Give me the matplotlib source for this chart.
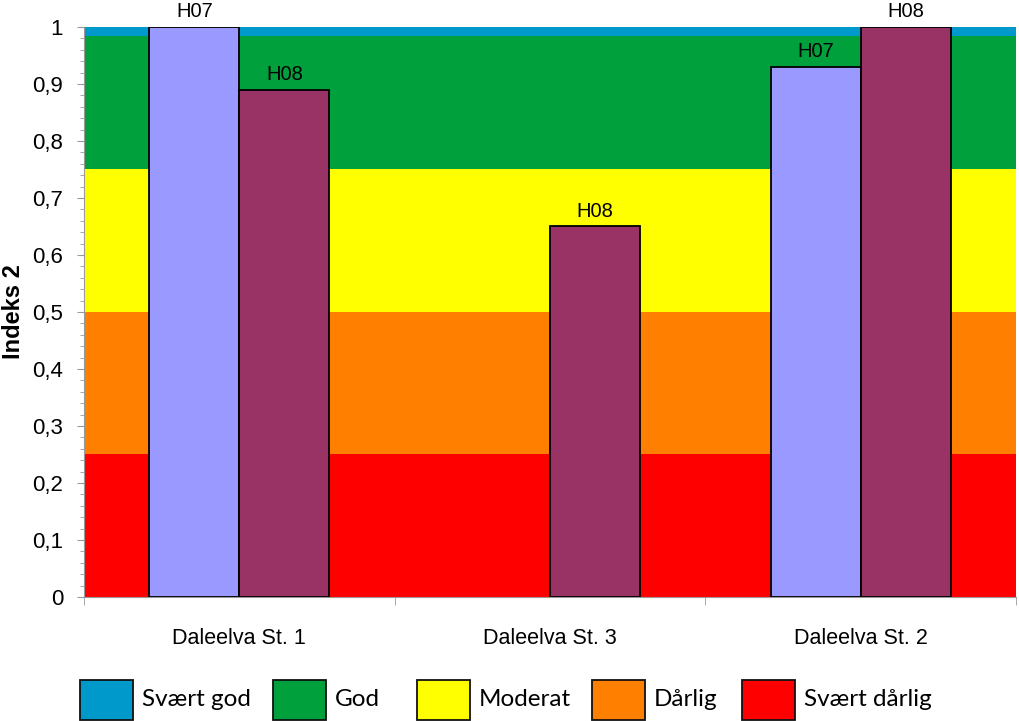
import numpy as np
import matplotlib
matplotlib.use("Agg")
import matplotlib.pyplot as plt
from matplotlib.patches import Rectangle

# data
stations = ['Daleelva St. 1', 'Daleelva St. 3', 'Daleelva St. 2']
h07 = [1.0, np.nan, 0.93]
h08 = [0.89, 0.65, 1.0]
series_names = ['H07', 'H08']

# status classes (lower, upper) of the index
class_names = ['Svært god', 'God', 'Moderat', 'Dårlig', 'Svært dårlig']
class_lims = [(0.985, 1.0), (0.75, 0.985), (0.5, 0.75), (0.25, 0.5), (0.0, 0.25)]
class_colors = ['#0099CC', '#00A03C', '#FFFF00', '#FF7F00', '#FF0000']

bar_colors = ['#9999FF', '#993366']
arial = ['Liberation Sans', 'DejaVu Sans']

fig = plt.figure(figsize=(10.2, 7.21), dpi=100)
ax = fig.add_axes([0.0824, 0.172, 0.9136, 0.7906])

for (lo, hi), c in zip(class_lims, class_colors):
    ax.axhspan(lo, hi, color=c, zorder=0, lw=0)

x = np.arange(len(stations))
w = 0.29
for i, (vals, col, name) in enumerate(zip([h07, h08], bar_colors, series_names)):
    pos = x + (i - 0.5) * w
    ax.bar(pos, vals, width=w, color=col, edgecolor='black', linewidth=1.3, zorder=3)
    for p, v in zip(pos, vals):
        if np.isnan(v):
            continue
        ax.annotate(name, (p, v), xytext=(0, 4), textcoords='offset points',
                    ha='center', va='bottom', fontsize=14.5, family=arial,
                    annotation_clip=False)

yt = np.arange(0, 1.01, 0.1)
ax.set_xlim(-0.5, len(stations) - 0.5)
ax.set_ylim(0, 1)
ax.set_yticks(yt)
ax.set_yticks(np.arange(0, 1.001, 0.02), minor=True)
ax.set_yticklabels(['0'] + [f'{v:.1f}'.replace('.', ',') for v in yt[1:-1]] + ['1'],
                   fontsize=16, family=arial)
ax.set_xticks(x)
ax.set_xticklabels(stations, fontsize=15.5, family=arial)
ax.set_xticks(np.arange(-0.5, len(stations), 1.0), minor=True)
ax.tick_params(axis='x', which='major', length=0, pad=22)
ax.tick_params(axis='x', which='minor', length=6, color='#999999', direction='out')
ax.tick_params(axis='y', which='major', length=5, color='#999999', pad=10)
ax.tick_params(axis='y', which='minor', length=3, color='#999999')
for s in ['top', 'right']:
    ax.spines[s].set_visible(False)
for s in ['left', 'bottom']:
    ax.spines[s].set_color('#999999')
    ax.spines[s].set_linewidth(0.8)
ax.set_ylabel('Indeks 2', fontsize=17, fontweight='bold', family=arial, labelpad=5)

# legend drawn below the plot
leg_left = [80, 273, 417, 592, 742]
for xl, name, col in zip(leg_left, class_names, class_colors):
    fig.patches.append(Rectangle((xl / 1020, 1 - 720 / 721), 53 / 1020, 40 / 721,
                                 transform=fig.transFigure, facecolor=col,
                                 edgecolor='#111111', linewidth=1.3))
    fig.text((xl + 62) / 1020, 1 - 700 / 721, name, fontsize=17.5, family='Lato',
             va='center', ha='left')

fig.savefig('out.png', dpi=100)
